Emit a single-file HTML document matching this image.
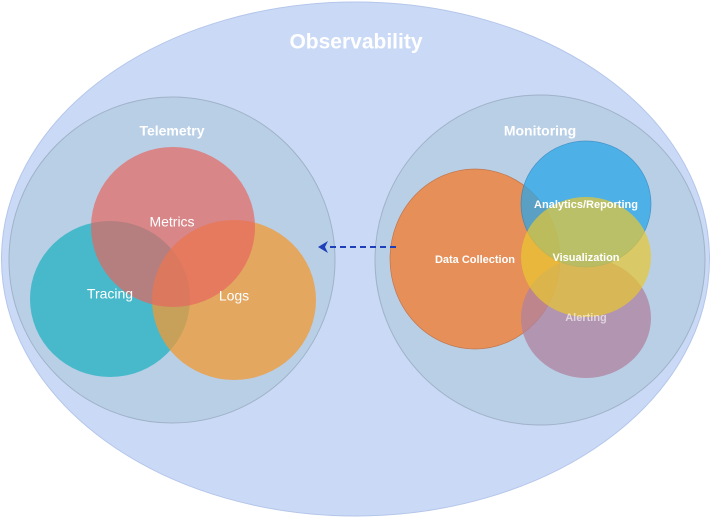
<!DOCTYPE html>
<html><head><style>
html,body{margin:0;padding:0;background:#fff;width:711px;height:518px;overflow:hidden}
text{font-family:"Liberation Sans",Arial,sans-serif;fill:#fff;text-anchor:middle;dominant-baseline:middle}
</style></head><body>
<svg width="711" height="518" viewBox="0 0 711 518">
<ellipse cx="355.5" cy="259" rx="354" ry="257" fill="#cad9f6" stroke="#b4c6ea" stroke-width="1"/>
<text x="356" y="43" font-size="21" font-weight="bold">Observability</text>
<circle cx="172" cy="260" r="163" fill="#b9cfe6" stroke="#9fb3c8" stroke-width="1"/>
<circle cx="540" cy="260" r="165" fill="#b9cfe6" stroke="#9fb3c8" stroke-width="1"/>
<text x="172" y="132" font-size="14" font-weight="bold">Telemetry</text>
<text x="540" y="132" font-size="14" font-weight="bold">Monitoring</text>
<ellipse cx="110" cy="299" rx="80" ry="78" fill="#27b2c2" opacity="0.78"/>
<ellipse cx="234" cy="300" rx="82" ry="80" fill="#f29a33" opacity="0.75"/>
<ellipse cx="173" cy="227" rx="82" ry="80" fill="#e5675f" opacity="0.7"/>
<text x="172" y="223" font-size="14">Metrics</text>
<text x="110" y="295" font-size="14">Tracing</text>
<text x="234" y="297" font-size="14">Logs</text>
<ellipse cx="475" cy="259" rx="85" ry="90" fill="#ee8540" opacity="0.85" stroke="#c06838" stroke-width="0.7"/>
<ellipse cx="586" cy="318" rx="65" ry="60" fill="#b0829e" opacity="0.75"/>
<ellipse cx="586" cy="204" rx="65" ry="63" fill="#2aa6e8" opacity="0.75" stroke="#2080c0" stroke-width="0.7"/>
<ellipse cx="586" cy="257" rx="65" ry="60" fill="#e8c830" opacity="0.7"/>
<text x="475" y="260" font-size="11" font-weight="bold">Data Collection</text>
<text x="586" y="205" font-size="11" font-weight="bold">Analytics/Reporting</text>
<text x="586" y="258" font-size="11" font-weight="bold">Visualization</text>
<text x="586" y="318" font-size="11" font-weight="bold" opacity="0.6">Alerting</text>
<line x1="396" y1="247" x2="326" y2="247" stroke="#1f3fb8" stroke-width="2" stroke-dasharray="6,4"/>
<path d="M318 247 L328 241 L325 247 L328 253 Z" fill="#1f3fb8"/>
</svg>
</body></html>
